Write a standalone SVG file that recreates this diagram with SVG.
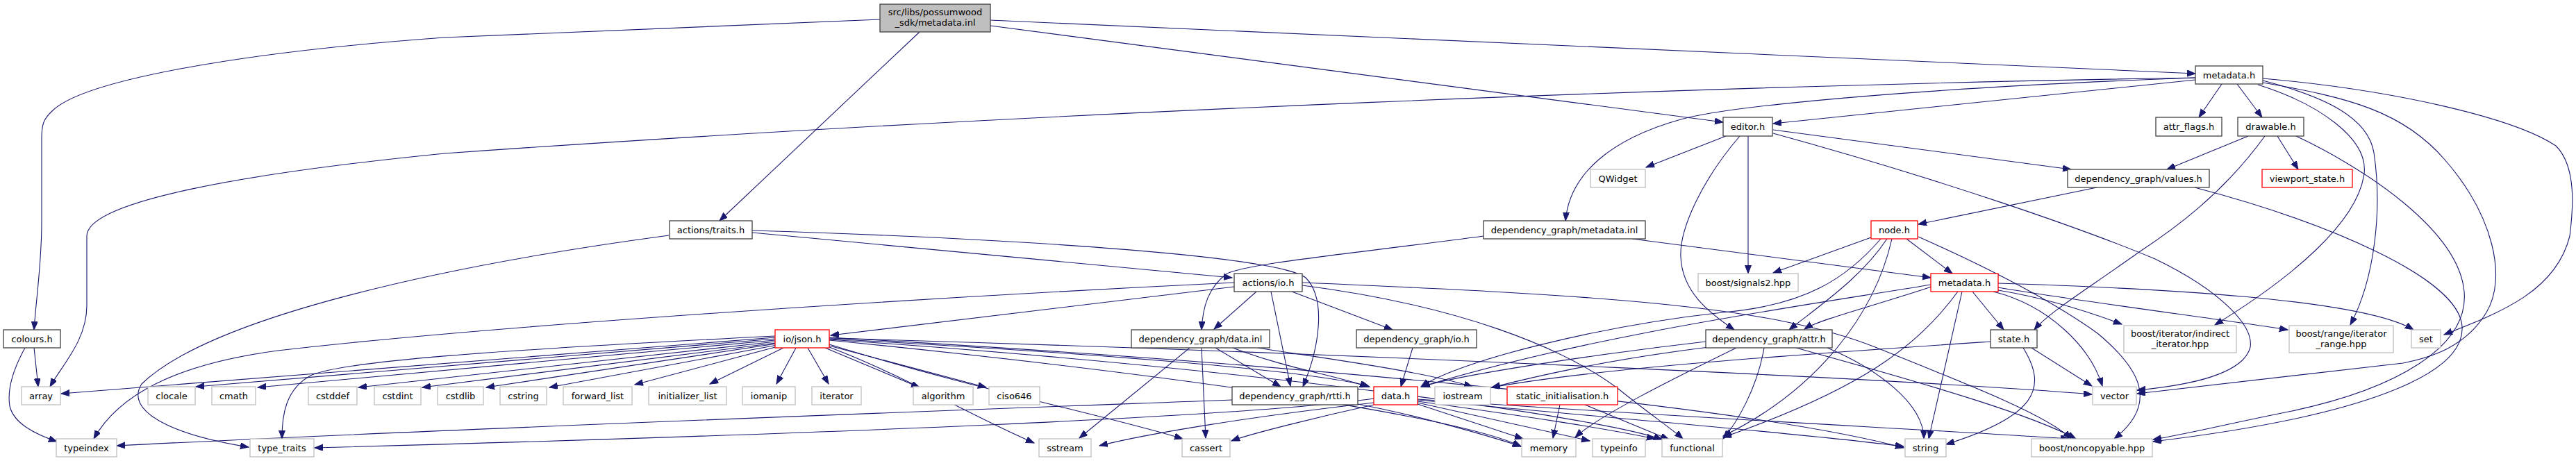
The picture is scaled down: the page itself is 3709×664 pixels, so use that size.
<svg xmlns="http://www.w3.org/2000/svg" width="3709" height="664" viewBox="0 0 3709 664">
<defs>
<marker id="ah" markerUnits="userSpaceOnUse" markerWidth="13" markerHeight="10" refX="12" refY="4.5" orient="auto"><path d="M0,0 L12,4.5 L0,9 z" fill="#191970" stroke="#191970" stroke-width="1"/></marker>
<style>
.e{fill:none;stroke:#191970;stroke-width:1.1;marker-end:url(#ah)}
.b{fill:#fff;stroke:#404040;stroke-width:1.3}
.r{fill:#fff;stroke:#ff0000;stroke-width:1.3}
.x{fill:#fff;stroke:#bfbfbf;stroke-width:1.3}
.g{fill:#bfbfbf;stroke:#404040;stroke-width:1.3}
text{font-family:"DejaVu Sans","Liberation Sans",sans-serif;font-size:13px;fill:#000;text-anchor:middle}
</style>
</defs>
<rect width="3709" height="664" fill="#fff"/>
<g id="edges">
<path class="e" d="M1267,28 C1000,40 780,48 640,54 C350,75 120,115 75,160 C62,172 60,180 60,200 L60,320 C60,380 52,430 49,475"/>
<path class="e" d="M1324,46 L1036,318"/>
<path class="e" d="M1426,29 L3161,106"/>
<path class="e" d="M1426,37 L2481,176"/>
<path class="e" d="M3161,112 C2500,122 1500,160 640,221 C350,250 125,290 125,340 L125,440 C125,490 90,525 72,557"/>
<path class="e" d="M3161,115 L2553,178"/>
<path class="e" d="M3161,112 C2800,125 2500,150 2420,172 C2320,200 2260,250 2254,318"/>
<path class="e" d="M3199,121 L3166,169"/>
<path class="e" d="M3221,121 L3257,169"/>
<path class="e" d="M3251,122 C3340,150 3410,200 3404,250 C3395,320 3300,400 3189,468"/>
<path class="e" d="M3258,116 C3350,140 3410,170 3418,220 C3430,300 3420,400 3384,468"/>
<path class="e" d="M3258,113 C3450,130 3620,170 3680,210 C3710,240 3705,300 3700,340 C3680,420 3600,450 3519,482"/>
<path class="e" d="M3258,119 C3380,140 3460,160 3520,230 C3590,310 3610,400 3580,450 C3550,500 3500,515 3460,523 L3077,567"/>
<path class="e" d="M3306,196 C3400,240 3540,330 3548,420 C3555,500 3450,560 3300,592 C3200,612 3150,625 3100,633"/>
<path class="e" d="M3160,270 C3350,320 3540,400 3545,470 C3550,540 3400,600 3100,636"/>
<path class="e" d="M3237,196 L3120,244"/>
<path class="e" d="M3279,196 L3309,244"/>
<path class="e" d="M3261,196 C3200,280 3130,330 3080,363 C3000,420 2950,450 2929,475"/>
<path class="e" d="M2485,196 L2370,241"/>
<path class="e" d="M2517,196 L2517,394"/>
<path class="e" d="M2553,187 L2982,244"/>
<path class="e" d="M2505,196 C2450,260 2418,330 2420,370 C2422,420 2460,450 2497,475"/>
<path class="e" d="M2553,192 C2800,260 3000,330 3103,373 C3200,420 3245,470 3240,500 C3230,540 3150,555 3077,562"/>
<path class="e" d="M3019,270 L2762,323"/>
<path class="e" d="M2694,342 L2553,393"/>
<path class="e" d="M2745,344 L2811,394"/>
<path class="e" d="M2717,344 C2680,400 2620,440 2576,475"/>
<path class="e" d="M2708,344 C2660,400 2600,440 2480,450 C2300,470 2100,520 2046,557"/>
<path class="e" d="M2724,344 C2700,450 2620,560 2481,628"/>
<path class="e" d="M2762,341 C2850,380 2950,430 3020,480 C3080,530 3110,580 3044,632"/>
<path class="e" d="M2350,344 L2780,400"/>
<path class="e" d="M2136,340 C1950,365 1790,380 1765,395 C1740,415 1732,440 1730,475"/>
<path class="e" d="M2781,413 C2700,440 2620,460 2598,474"/>
<path class="e" d="M2780,410 C2600,440 2300,480 2047,557"/>
<path class="e" d="M2840,420 L2885,475"/>
<path class="e" d="M2870,420 C2950,440 3010,500 3027,556"/>
<path class="e" d="M2825,420 L2777,632"/>
<path class="e" d="M2819,420 C2760,500 2680,560 2481,630"/>
<path class="e" d="M2877,418 C2950,430 3010,450 3055,467"/>
<path class="e" d="M2877,414 C3000,435 3200,460 3294,475"/>
<path class="e" d="M2877,408 C3100,415 3400,430 3475,475"/>
<path class="e" d="M1083,335 L1774,400"/>
<path class="e" d="M1083,332 C1500,345 1840,370 1880,400 C1910,430 1900,500 1876,557"/>
<path class="e" d="M963,339 C620,385 300,460 204,553 C180,590 240,625 358,644"/>
<path class="e" d="M49,501 L55,557"/>
<path class="e" d="M36,501 C20,530 10,560 14,585 C20,610 50,625 82,636"/>
<path class="e" d="M1777,407 C1300,430 700,470 400,505 C250,525 170,570 135,632"/>
<path class="e" d="M1777,413 L1196,483"/>
<path class="e" d="M1809,420 L1748,474"/>
<path class="e" d="M1830,420 L1858,556"/>
<path class="e" d="M1860,420 L2005,475"/>
<path class="e" d="M1875,407 C2300,425 2550,440 2700,500 C2850,560 2950,600 2982,632"/>
<path class="e" d="M1875,411 C2100,440 2250,500 2330,560 C2380,600 2410,620 2423,632"/>
<path class="e" d="M1116,486 L88,567"/>
<path class="e" d="M1116,488 L282,557"/>
<path class="e" d="M1116,490 L371,558"/>
<path class="e" d="M1116,484 C700,505 500,520 449,540 C410,560 406,600 406,632"/>
<path class="e" d="M1117,492 L516,558"/>
<path class="e" d="M1117,494 L608,558"/>
<path class="e" d="M1118,495 L700,558"/>
<path class="e" d="M1119,497 L791,558"/>
<path class="e" d="M1120,499 L914,554"/>
<path class="e" d="M1128,501 L1022,553"/>
<path class="e" d="M1146,501 L1118,553"/>
<path class="e" d="M1163,501 L1193,553"/>
<path class="e" d="M1188,501 L1324,558"/>
<path class="e" d="M1194,498 L1420,558"/>
<path class="e" d="M1194,500 C1300,540 1400,600 1489,638"/>
<path class="e" d="M1194,496 C1400,560 1600,600 1703,632"/>
<path class="e" d="M1194,488 C1600,510 1900,535 1972,557"/>
<path class="e" d="M1194,490 C1700,540 2100,600 2190,643"/>
<path class="e" d="M1194,486 C1800,520 2500,580 2741,645"/>
<path class="e" d="M1194,489 C1800,530 2300,600 2393,633"/>
<path class="e" d="M1194,487 C2000,510 2800,550 3012,568"/>
<path class="e" d="M1750,501 L1844,557"/>
<path class="e" d="M1713,501 L1554,631"/>
<path class="e" d="M1730,501 L1736,631"/>
<path class="e" d="M1775,501 C1850,530 1920,540 1970,557"/>
<path class="e" d="M1811,501 C1900,515 2050,535 2120,557"/>
<path class="e" d="M2034,501 L2017,557"/>
<path class="e" d="M2041,580 L2289,635"/>
<path class="e" d="M2041,582 L2193,632"/>
<path class="e" d="M2041,578 C2200,600 2300,615 2383,632"/>
<path class="e" d="M2041,576 C2300,600 2600,625 2741,643"/>
<path class="e" d="M2041,575 C2400,600 2800,620 2979,632"/>
<path class="e" d="M1978,580 C1800,600 1650,625 1583,642"/>
<path class="e" d="M1978,583 C1900,600 1800,625 1773,635"/>
<path class="e" d="M1978,574 C1800,600 1200,625 453,645"/>
<path class="e" d="M1774,576 C1400,590 700,615 168,642"/>
<path class="e" d="M1955,582 C2050,600 2150,630 2190,643"/>
<path class="e" d="M2246,583 L2236,631"/>
<path class="e" d="M2282,583 L2403,633"/>
<path class="e" d="M2456,492 C2300,510 2100,540 2047,557"/>
<path class="e" d="M2460,500 C2300,520 2200,545 2148,558"/>
<path class="e" d="M2500,501 C2400,550 2300,600 2268,630"/>
<path class="e" d="M2540,501 C2530,560 2500,610 2481,632"/>
<path class="e" d="M2631,501 C2700,530 2770,580 2770,632"/>
<path class="e" d="M2586,501 C2800,560 2930,600 2989,632"/>
<path class="e" d="M2925,501 L3012,556"/>
<path class="e" d="M2913,501 C2950,560 2930,600 2802,640"/>
<path class="e" d="M2866,492 C2600,510 2300,530 2148,558"/>
</g>
<g id="root"><rect class="g" x="1267" y="6" width="159" height="40"/><text x="1346.5" y="21.5">src/libs/possumwood</text><text x="1346.5" y="36.5">_sdk/metadata.inl</text></g>
<g id="n_meta"><rect class="b" x="3161" y="95" width="97" height="26"/><text x="3209.5" y="112.5">metadata.h</text></g>
<g id="n_editor"><rect class="b" x="2481" y="169" width="71" height="27"/><text x="2516.5" y="187">editor.h</text></g>
<g id="n_attrflags"><rect class="b" x="3104" y="169" width="95" height="27"/><text x="3151.5" y="187">attr_flags.h</text></g>
<g id="n_drawable"><rect class="b" x="3222" y="169" width="95" height="27"/><text x="3269.5" y="187">drawable.h</text></g>
<g id="n_qwidget"><rect class="x" x="2290" y="244" width="79" height="26"/><text x="2329.5" y="261.5">QWidget</text></g>
<g id="n_values"><rect class="b" x="2977" y="244" width="204" height="26"/><text x="3079" y="261.5">dependency_graph/values.h</text></g>
<g id="n_viewport"><rect class="r" x="3257" y="244" width="130" height="26"/><text x="3322" y="261.5">viewport_state.h</text></g>
<g id="n_traits"><rect class="b" x="964" y="318" width="119" height="26"/><text x="1023.5" y="335.5">actions/traits.h</text></g>
<g id="n_dgmetainl"><rect class="b" x="2136" y="318" width="233" height="26"/><text x="2252.5" y="335.5">dependency_graph/metadata.inl</text></g>
<g id="n_node"><rect class="r" x="2694" y="318" width="67" height="26"/><text x="2727.5" y="335.5">node.h</text></g>
<g id="n_actio"><rect class="b" x="1777" y="394" width="98" height="26"/><text x="1826" y="411.5">actions/io.h</text></g>
<g id="n_signals"><rect class="x" x="2445" y="394" width="144" height="26"/><text x="2517" y="411.5">boost/signals2.hpp</text></g>
<g id="n_metared"><rect class="r" x="2780" y="394" width="97" height="26"/><text x="2828.5" y="411.5">metadata.h</text></g>
<g id="n_colours"><rect class="b" x="5" y="475" width="82" height="26"/><text x="46" y="492.5">colours.h</text></g>
<g id="n_json"><rect class="r" x="1116" y="475" width="78" height="26"/><text x="1155" y="492.5">io/json.h</text></g>
<g id="n_datainl"><rect class="b" x="1629" y="475" width="199" height="26"/><text x="1728.5" y="492.5">dependency_graph/data.inl</text></g>
<g id="n_dgio"><rect class="b" x="1953" y="475" width="173" height="26"/><text x="2039.5" y="492.5">dependency_graph/io.h</text></g>
<g id="n_attr"><rect class="b" x="2456" y="475" width="182" height="26"/><text x="2547" y="492.5">dependency_graph/attr.h</text></g>
<g id="n_state"><rect class="b" x="2866" y="475" width="67" height="26"/><text x="2899.5" y="492.5">state.h</text></g>
<g id="n_indirect"><rect class="x" x="3058" y="469" width="162" height="39"/><text x="3139" y="485">boost/iterator/indirect</text><text x="3139" y="499.5">_iterator.hpp</text></g>
<g id="n_itrange"><rect class="x" x="3296" y="469" width="150" height="39"/><text x="3371" y="485">boost/range/iterator</text><text x="3371" y="499.5">_range.hpp</text></g>
<g id="n_set"><rect class="x" x="3472" y="475" width="42" height="26"/><text x="3493" y="492.5">set</text></g>
<g id="n_array"><rect class="x" x="31" y="557" width="56" height="26"/><text x="59" y="574.5">array</text></g>
<g id="n_clocale"><rect class="x" x="213" y="557" width="68" height="26"/><text x="247" y="574.5">clocale</text></g>
<g id="n_cmath"><rect class="x" x="305" y="557" width="63" height="26"/><text x="336.5" y="574.5">cmath</text></g>
<g id="n_cstddef"><rect class="x" x="444" y="557" width="70" height="26"/><text x="479" y="574.5">cstddef</text></g>
<g id="n_cstdint"><rect class="x" x="539" y="557" width="67" height="26"/><text x="572.5" y="574.5">cstdint</text></g>
<g id="n_cstdlib"><rect class="x" x="630" y="557" width="66" height="26"/><text x="663" y="574.5">cstdlib</text></g>
<g id="n_cstring"><rect class="x" x="720" y="557" width="67" height="26"/><text x="753.5" y="574.5">cstring</text></g>
<g id="n_fwdlist"><rect class="x" x="811" y="557" width="99" height="26"/><text x="860.5" y="574.5">forward_list</text></g>
<g id="n_initlist"><rect class="x" x="934" y="557" width="112" height="26"/><text x="990" y="574.5">initializer_list</text></g>
<g id="n_iomanip"><rect class="x" x="1069" y="557" width="76" height="26"/><text x="1107" y="574.5">iomanip</text></g>
<g id="n_iterator"><rect class="x" x="1169" y="557" width="71" height="26"/><text x="1204.5" y="574.5">iterator</text></g>
<g id="n_algorithm"><rect class="x" x="1315" y="557" width="86" height="26"/><text x="1358" y="574.5">algorithm</text></g>
<g id="n_ciso646"><rect class="x" x="1424" y="557" width="73" height="26"/><text x="1460.5" y="574.5">ciso646</text></g>
<g id="n_rtti"><rect class="b" x="1774" y="557" width="181" height="26"/><text x="1864.5" y="574.5">dependency_graph/rtti.h</text></g>
<g id="n_datah"><rect class="r" x="1978" y="557" width="63" height="26"/><text x="2009.5" y="574.5">data.h</text></g>
<g id="n_iostream"><rect class="x" x="2066" y="557" width="80" height="26"/><text x="2106" y="574.5">iostream</text></g>
<g id="n_static"><rect class="r" x="2170" y="557" width="159" height="26"/><text x="2249.5" y="574.5">static_initialisation.h</text></g>
<g id="n_vector"><rect class="x" x="3013" y="557" width="63" height="26"/><text x="3044.5" y="574.5">vector</text></g>
<g id="n_typeindex"><rect class="x" x="81" y="632" width="87" height="26"/><text x="124.5" y="649.5">typeindex</text></g>
<g id="n_typetraits"><rect class="x" x="360" y="632" width="92" height="26"/><text x="406" y="649.5">type_traits</text></g>
<g id="n_sstream"><rect class="x" x="1496" y="632" width="75" height="26"/><text x="1533.5" y="649.5">sstream</text></g>
<g id="n_cassert"><rect class="x" x="1702" y="632" width="69" height="26"/><text x="1736.5" y="649.5">cassert</text></g>
<g id="n_memory"><rect class="x" x="2191" y="632" width="78" height="26"/><text x="2230" y="649.5">memory</text></g>
<g id="n_typeinfo"><rect class="x" x="2293" y="632" width="76" height="26"/><text x="2331" y="649.5">typeinfo</text></g>
<g id="n_functional"><rect class="x" x="2393" y="632" width="87" height="26"/><text x="2436.5" y="649.5">functional</text></g>
<g id="n_string"><rect class="x" x="2743" y="632" width="59" height="26"/><text x="2772.5" y="649.5">string</text></g>
<g id="n_noncopyable"><rect class="x" x="2925" y="632" width="174" height="26"/><text x="3012" y="649.5">boost/noncopyable.hpp</text></g>
</svg>
